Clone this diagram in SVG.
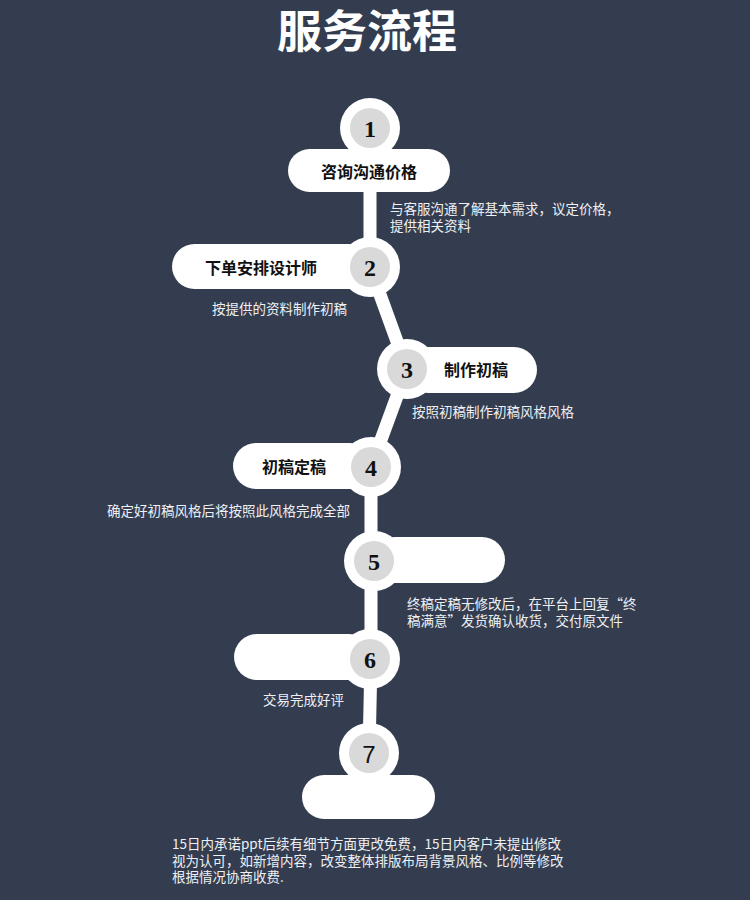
<svg xmlns="http://www.w3.org/2000/svg" width="750" height="900" viewBox="0 0 750 900">
<style>
.bg{fill:#343d50}
.title{font-family:"Noto Sans CJK SC","Noto Sans",sans-serif;font-weight:700;font-size:45px;fill:#ffffff}
.pill{fill:#ffffff}
.ring{fill:#ffffff}
.dot{fill:#d9d9d9}
.num{font-family:"Liberation Serif","DejaVu Serif",serif;font-weight:700;font-size:24px;fill:#111111}
.num7{font-family:"Liberation Sans","DejaVu Sans",sans-serif;font-weight:400;font-size:24px;fill:#111111}
.label{font-family:"Noto Sans CJK SC","Noto Sans",sans-serif;font-weight:700;font-size:16px;fill:#111111}
.desc{font-family:"Noto Sans CJK SC","Noto Sans",sans-serif;font-size:13.5px;fill:#eef0f3}
.conn{stroke:#ffffff;stroke-width:13;fill:none;stroke-linecap:round;stroke-linejoin:round}
</style>
<rect class="bg" x="0" y="0" width="750" height="900"/>
<text class="title" x="367" y="48" text-anchor="middle">服务流程</text>

<g id="connectors">
<polyline class="conn" points="370,128 370,267 407,369 371,467 371,561 371,659 369,753"/>
</g>

<g id="node1">
<rect class="pill" x="288" y="149" width="162" height="43" rx="21.5"/>
<circle class="ring" cx="370" cy="128" r="30"/>
<circle class="dot" cx="370" cy="128" r="20"/>
<text class="num" x="370" y="129" text-anchor="middle" dominant-baseline="central">1</text>
<text class="label" x="369" y="171" text-anchor="middle" dominant-baseline="central">咨询沟通价格</text>
<text class="desc" x="390" y="214">与客服沟通了解基本需求，议定价格，</text>
<text class="desc" x="390" y="231">提供相关资料</text>
</g>

<g id="node2">
<rect class="pill" x="172" y="244" width="200" height="45" rx="22.5"/>
<circle class="ring" cx="370" cy="267" r="30"/>
<circle class="dot" cx="370" cy="267" r="20"/>
<text class="num" x="370" y="268" text-anchor="middle" dominant-baseline="central">2</text>
<text class="label" x="261" y="267" text-anchor="middle" dominant-baseline="central">下单安排设计师</text>
<text class="desc" x="212" y="314">按提供的资料制作初稿</text>
</g>

<g id="node3">
<rect class="pill" x="405" y="347" width="132" height="46" rx="23"/>
<circle class="ring" cx="407" cy="369" r="30"/>
<circle class="dot" cx="407" cy="369" r="20"/>
<text class="num" x="407" y="370" text-anchor="middle" dominant-baseline="central">3</text>
<text class="label" x="476" y="369" text-anchor="middle" dominant-baseline="central">制作初稿</text>
<text class="desc" x="412" y="417">按照初稿制作初稿风格风格</text>
</g>

<g id="node4">
<rect class="pill" x="233" y="443" width="140" height="46" rx="23"/>
<circle class="ring" cx="371" cy="467" r="30"/>
<circle class="dot" cx="371" cy="467" r="20"/>
<text class="num" x="371" y="468" text-anchor="middle" dominant-baseline="central">4</text>
<text class="label" x="294" y="466" text-anchor="middle" dominant-baseline="central">初稿定稿</text>
<text class="desc" x="107" y="516">确定好初稿风格后将按照此风格完成全部</text>
</g>

<g id="node5">
<rect class="pill" x="372" y="537" width="133" height="46" rx="23"/>
<circle class="ring" cx="374" cy="561" r="30"/>
<circle class="dot" cx="374" cy="561" r="20"/>
<text class="num" x="374" y="562" text-anchor="middle" dominant-baseline="central">5</text>
<text class="desc" x="407" y="609">终稿定稿无修改后，在平台上回复“终</text>
<text class="desc" x="407" y="626">稿满意”发货确认收货，交付原文件</text>
</g>

<g id="node6">
<rect class="pill" x="234" y="634" width="138" height="46" rx="23"/>
<circle class="ring" cx="370" cy="659" r="30"/>
<circle class="dot" cx="370" cy="659" r="20"/>
<text class="num" x="370" y="660" text-anchor="middle" dominant-baseline="central">6</text>
<text class="desc" x="263" y="705">交易完成好评</text>
</g>

<g id="node7">
<rect class="pill" x="302" y="775" width="133" height="44" rx="22"/>
<circle class="ring" cx="369" cy="753" r="30"/>
<circle class="dot" cx="369" cy="753" r="20"/>
<text class="num7" x="369" y="754" text-anchor="middle" dominant-baseline="central">7</text>
<text class="desc" x="172" y="849">15日内承诺ppt后续有细节方面更改免费，15日内客户未提出修改</text>
<text class="desc" x="172" y="866">视为认可，如新增内容，改变整体排版布局背景风格、比例等修改</text>
<text class="desc" x="172" y="882">根据情况协商收费.</text>
</g>
</svg>
